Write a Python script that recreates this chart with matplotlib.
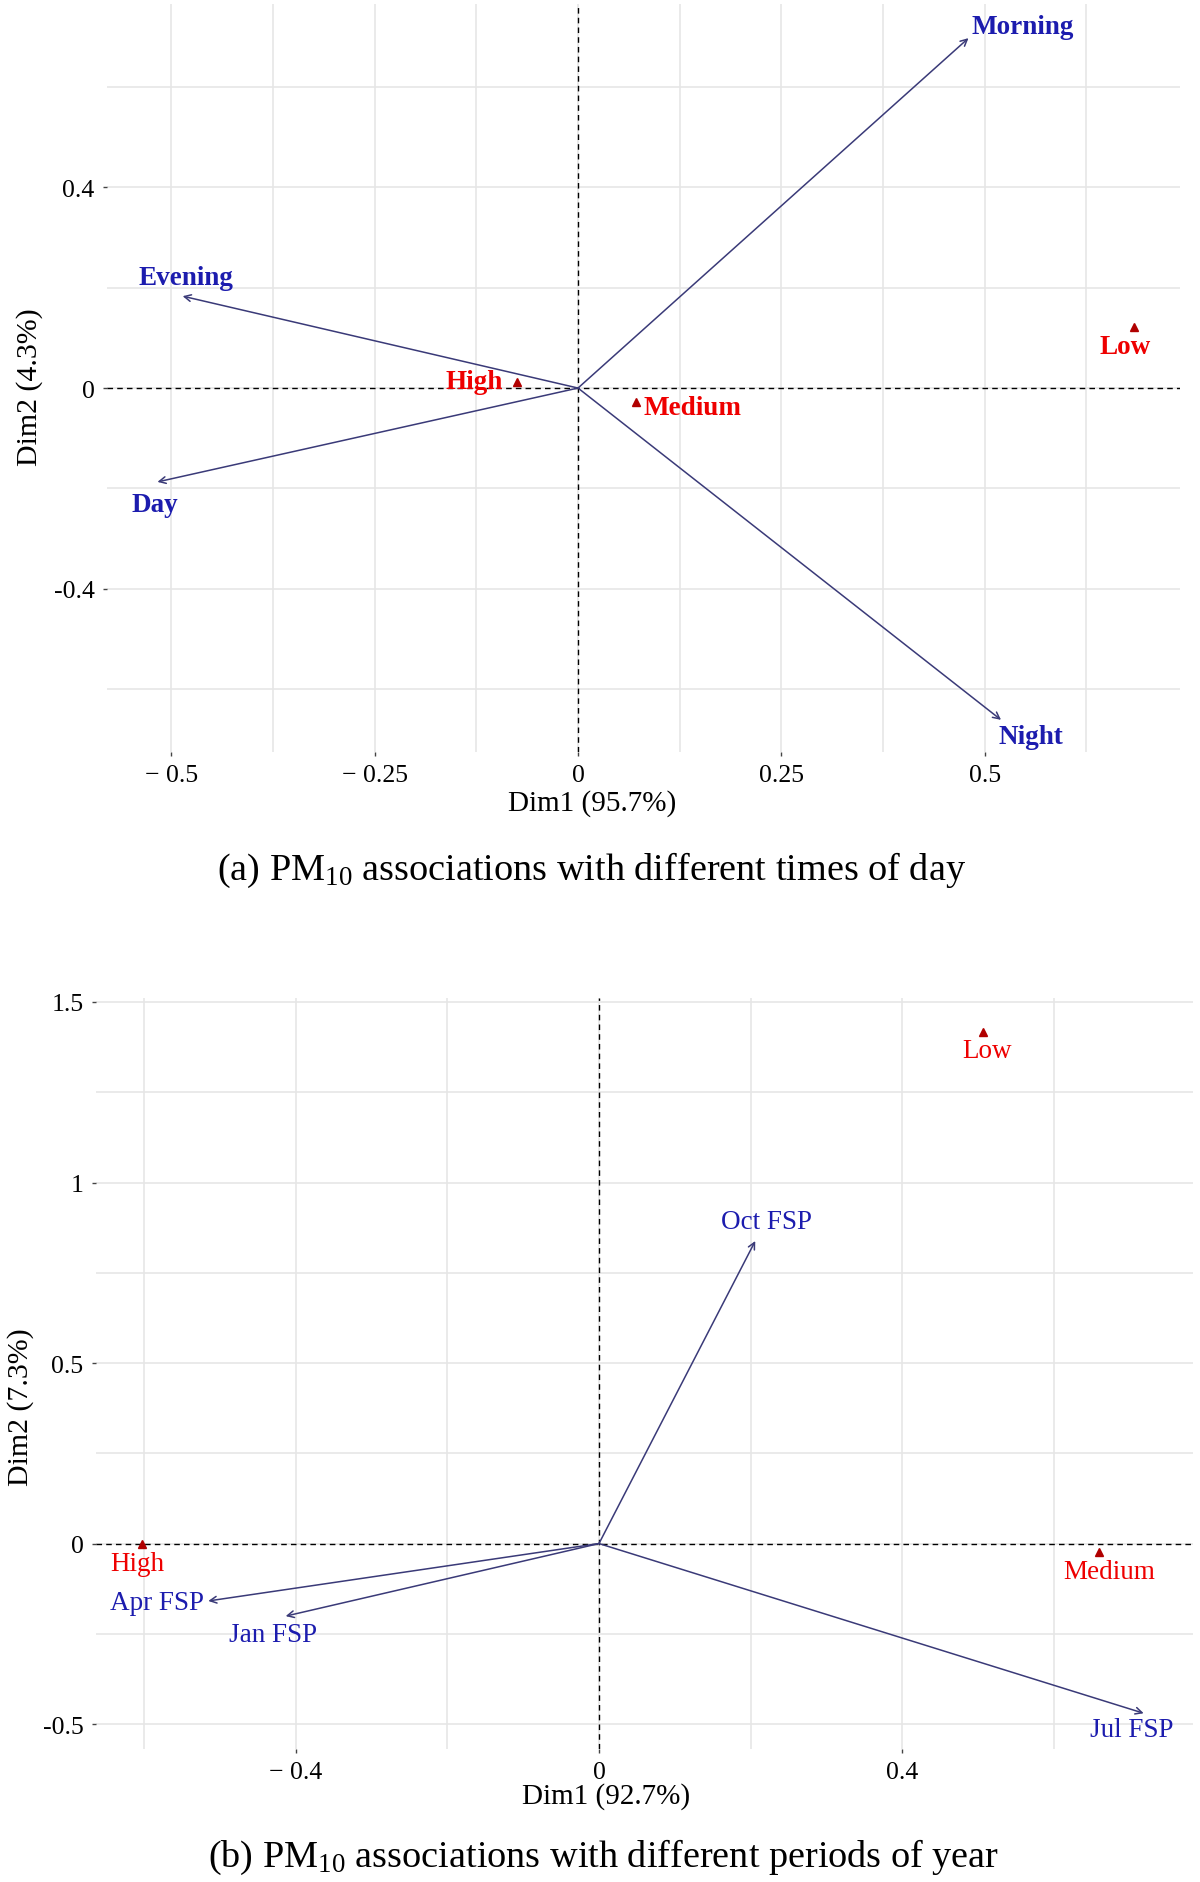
import matplotlib
matplotlib.use("Agg")
import matplotlib.pyplot as plt

plt.rcParams['font.family'] = ['Liberation Serif', 'DejaVu Serif']
plt.rcParams['mathtext.fontset'] = 'custom'
plt.rcParams['mathtext.rm'] = 'Liberation Serif'

# ---------------- Data: panel (a) times of day ----------------
a_cols = ['Morning', 'Evening', 'Day', 'Night']
a_cols_x = [0.480, -0.486, -0.517, 0.520]
a_cols_y = [0.697, 0.183, -0.187, -0.661]
a_rows = ['High', 'Medium', 'Low']
a_rows_x = [-0.075, 0.071, 0.684]
a_rows_y = [0.012, -0.028, 0.121]
a_xticks = [-0.5, -0.25, 0, 0.25, 0.5]
a_xticklabels = ['\u2212 0.5', '\u2212 0.25', '0', '0.25', '0.5']
a_yticks = [-0.4, 0, 0.4]
a_yticklabels = ['-0.4', '0', '0.4']
a_xminor = [-0.375, -0.125, 0.125, 0.375, 0.625]
a_yminor = [-0.6, -0.2, 0.2, 0.6]
a_xlabel = 'Dim1 (95.7%)'
a_ylabel = 'Dim2 (4.3%)'
a_caption = r'(a) PM$\mathregular{_{10}}$ associations with different times of day'

# ---------------- Data: panel (b) periods of year ----------------
b_cols = ['Oct FSP', 'Apr FSP', 'Jan FSP', 'Jul FSP']
b_cols_x = [0.206, -0.515, -0.413, 0.718]
b_cols_y = [0.838, -0.159, -0.201, -0.470]
b_rows = ['High', 'Medium', 'Low']
b_rows_x = [-0.602, 0.659, 0.506]
b_rows_y = [0.0, -0.024, 1.417]
b_xticks = [-0.4, 0, 0.4]
b_xticklabels = ['\u2212 0.4', '0', '0.4']
b_yticks = [-0.5, 0, 0.5, 1, 1.5]
b_yticklabels = ['-0.5', '0', '0.5', '1', '1.5']
b_xminor = [-0.6, -0.2, 0.2, 0.6]
b_yminor = [-0.25, 0.25, 0.75, 1.25]
b_xlabel = 'Dim1 (92.7%)'
b_ylabel = 'Dim2 (7.3%)'
b_caption = r'(b) PM$\mathregular{_{10}}$ associations with different periods of year'

# ---------------- Layout / style (pixels) ----------------
W, H = 1200, 1883
fig = plt.figure(figsize=(W / 100, H / 100), dpi=100)

BLUE = '#1c1cae'
RED = '#ee0000'
ARROW = '#3a3a78'
MARK = '#b00000'
GRID = '#e6e6e6'

# label offsets in pixels (dx, dy)
a_col_off = [(54, 12), (3, 19), (-3, -23), (30, -17)]
a_row_off = [(-43, 1), (57, -5), (-9, -19)]
b_col_off = [(11, 19), (-51, -2), (-13, -18), (-12, -16)]
b_row_off = [(-5, -20), (10, -19), (4, -19)]


def px_axes(l, r, t, b):
    return fig.add_axes([l / W, 1 - b / H, (r - l) / W, (b - t) / H])


def setup(ax, xlim, ylim, xt, xtl, yt, ytl, xmin, ymin):
    ax.set_xlim(*xlim)
    ax.set_ylim(*ylim)
    for s in ax.spines.values():
        s.set_visible(False)
    ax.set_xticks(xt)
    ax.set_xticklabels(xtl)
    ax.set_yticks(yt)
    ax.set_yticklabels(ytl)
    ax.set_xticks(xmin, minor=True)
    ax.set_yticks(ymin, minor=True)
    ax.tick_params(which='major', length=3, width=1, color='#444444',
                   labelsize=18.5, pad=6)
    ax.tick_params(which='minor', length=0)
    ax.grid(True, which='both', color=GRID, lw=1.2)
    ax.set_axisbelow(True)
    ax.axhline(0, color='black', lw=1.0, ls=(0, (4, 3)), zorder=2)
    ax.axvline(0, color='black', lw=1.0, ls=(0, (4, 3)), zorder=2)


def draw(ax, cols, cx, cy, coff, rows, rx, ry, roff, weight):
    for name, x, y, off in zip(cols, cx, cy, coff):
        ax.annotate('', xy=(x, y), xytext=(0, 0),
                    arrowprops=dict(arrowstyle='->', color=ARROW, lw=1.1,
                                    shrinkA=0, shrinkB=0, mutation_scale=12),
                    zorder=3)
        ax.annotate(name, xy=(x, y), xytext=off, textcoords='offset pixels',
                    ha='center', va='center', color=BLUE, fontsize=19.5,
                    fontweight=weight, zorder=4)
    ax.plot(rx, ry, ls='none', marker='^', ms=5.5, color=MARK, zorder=4)
    for name, x, y, off in zip(rows, rx, ry, roff):
        ax.annotate(name, xy=(x, y), xytext=off, textcoords='offset pixels',
                    ha='center', va='center', color=RED, fontsize=19.5,
                    fontweight=weight, zorder=4)


# Panel (a)
axa = px_axes(107, 1180, 5, 753)
setup(axa, (-0.579, 0.740), (-0.725, 0.765), a_xticks, a_xticklabels,
      a_yticks, a_yticklabels, a_xminor, a_yminor)
draw(axa, a_cols, a_cols_x, a_cols_y, a_col_off,
     a_rows, a_rows_x, a_rows_y, a_row_off, 'bold')
fig.text(592 / W, 1 - 804 / H, a_xlabel, ha='center', va='center', fontsize=21)
fig.text(30 / W, 1 - 387 / H, a_ylabel, ha='center', va='center',
         fontsize=21.5, rotation=90)
fig.text(592 / W, 1 - 870 / H, a_caption, ha='center', va='center', fontsize=27.5)

# Panel (b)
axb = px_axes(96, 1193, 999, 1750)
setup(axb, (-0.663, 0.783), (-0.569, 1.511), b_xticks, b_xticklabels,
      b_yticks, b_yticklabels, b_xminor, b_yminor)
draw(axb, b_cols, b_cols_x, b_cols_y, b_col_off,
     b_rows, b_rows_x, b_rows_y, b_row_off, 'normal')
fig.text(606 / W, 1 - 1797 / H, b_xlabel, ha='center', va='center', fontsize=21)
fig.text(21 / W, 1 - 1407 / H, b_ylabel, ha='center', va='center',
         fontsize=21.5, rotation=90)
fig.text(604 / W, 1 - 1857 / H, b_caption, ha='center', va='center', fontsize=27.5)

fig.savefig('out.png', dpi=100, facecolor='white')
